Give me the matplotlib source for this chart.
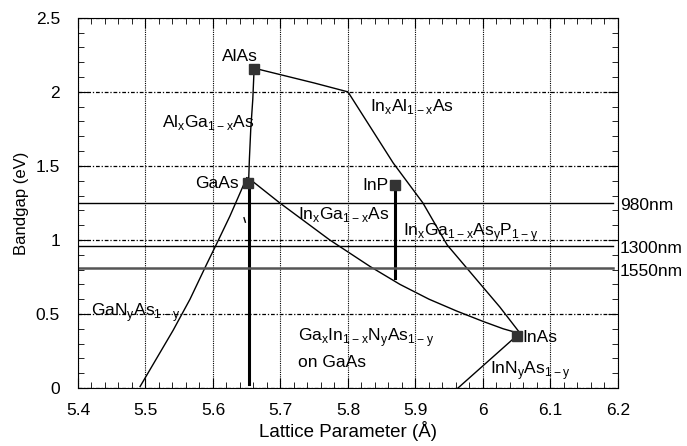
import numpy as np
import matplotlib
matplotlib.use("Agg")
import matplotlib.pyplot as plt
from matplotlib.ticker import MultipleLocator, FuncFormatter

plt.rcParams['font.family'] = ['Liberation Sans', 'DejaVu Sans']

# binary compounds (lattice parameter A, bandgap eV)
binary_names = ["AlAs", "GaAs", "InP", "InAs"]
binary_a = [5.661, 5.652, 5.869, 6.050]
binary_eg = [2.155, 1.385, 1.37, 0.35]

# alloy curves
algaas_a = [5.661, 5.659, 5.656, 5.654, 5.653]
algaas_eg = [2.16, 1.95, 1.75, 1.55, 1.42]

inalas_a = [5.661, 5.750, 5.800, 5.867, 5.911, 5.947, 6.025, 6.055]
inalas_eg = [2.16, 2.06, 2.00, 1.52, 1.25, 0.966, 0.547, 0.37]

ingaas_a = [5.652, 5.699, 5.773, 5.803, 5.833, 5.877, 5.920, 5.961, 6.000, 6.030, 6.053]
ingaas_eg = [1.42, 1.25, 1.00, 0.91, 0.82, 0.70, 0.60, 0.52, 0.45, 0.40, 0.37]

ganas_a = [5.650, 5.625, 5.605, 5.590, 5.566, 5.541, 5.492]
ganas_eg = [1.42, 1.16, 0.97, 0.83, 0.60, 0.39, 0.01]

innas_a = [6.053, 5.963]
innas_eg = [0.365, 0.0]

# stray mark near GaAs
mark_a = [5.646, 5.648]
mark_eg = [1.15, 1.12]

# vertical lines (lattice matched)
vlines_a = [5.653, 5.869]
vlines_top = [1.38, 1.37]
vlines_bot = [0.03, 0.74]

# laser wavelengths
wl_names = ["980nm", "1300nm", "1550nm"]
wl_eg = [1.25, 0.96, 0.81]
wl_colors = ["black", "black", "#555555"]
wl_widths = [1.0, 1.0, 1.8]

fig = plt.figure(figsize=(6.87, 4.46), dpi=100)
ax = fig.add_axes([0.1135, 0.130, 0.786, 0.830])

for xs, ys in [(algaas_a, algaas_eg), (inalas_a, inalas_eg), (ingaas_a, ingaas_eg),
               (ganas_a, ganas_eg), (innas_a, innas_eg), (mark_a, mark_eg)]:
    ax.plot(xs, ys, color='black', lw=1)

for a, t, b in zip(vlines_a, vlines_top, vlines_bot):
    ax.plot([a, a], [b, t], color='black', lw=2.2)

for name, e, c, w in zip(wl_names, wl_eg, wl_colors, wl_widths):
    ax.plot([5.4, 6.193], [e, e], color=c, lw=w)
    ax.text(6.203, e - 0.02, name, fontsize=12.5, va='center', ha='left')

ax.plot(binary_a, binary_eg, 's', color='#333333', ms=6.5, zorder=4)

txt = dict(fontsize=12.5, va='center', ha='left', zorder=1)
ax.text(5.613, 2.24, "AlAs", **txt)
ax.text(5.524, 1.79, "Al$_\\mathregular{x}$Ga$_\\mathregular{1-x}$As", **txt)
ax.text(5.573, 1.38, "GaAs", **txt)
ax.text(5.833, 1.90, "In$_\\mathregular{x}$Al$_\\mathregular{1-x}$As", **txt)
ax.text(5.822, 1.37, "InP", **txt)
ax.text(5.726, 1.17, "In$_\\mathregular{x}$Ga$_\\mathregular{1-x}$As", **txt)
ax.text(5.881, 1.05, "In$_\\mathregular{x}$Ga$_\\mathregular{1-x}$As$_\\mathregular{y}$P$_\\mathregular{1-y}$", **txt)
ax.text(5.42, 0.51, "GaN$_\\mathregular{y}$As$_\\mathregular{1-y}$", **txt)
ax.text(5.726, 0.34, "Ga$_\\mathregular{x}$In$_\\mathregular{1-x}$N$_\\mathregular{y}$As$_\\mathregular{1-y}$", **txt)
ax.text(5.726, 0.17, "on GaAs", **txt)
ax.text(6.058, 0.34, "InAs", **txt)
ax.text(6.01, 0.12, "InN$_\\mathregular{y}$As$_\\mathregular{1-y}$", **txt)

ax.set_xlim(5.4, 6.2)
ax.set_ylim(0, 2.5)
ax.xaxis.set_major_locator(MultipleLocator(0.1))
ax.xaxis.set_minor_locator(MultipleLocator(0.02))
ax.yaxis.set_major_locator(MultipleLocator(0.5))
ax.yaxis.set_minor_locator(MultipleLocator(0.1))
fmt = FuncFormatter(lambda v, p: ('%g' % round(v, 2)))
ax.xaxis.set_major_formatter(fmt)
ax.yaxis.set_major_formatter(fmt)
ax.tick_params(which='both', direction='in', top=True, right=True, labelsize=12.5)
ax.tick_params(which='major', length=7)
ax.tick_params(axis='x', which='major', pad=11)
ax.tick_params(axis='y', which='major', pad=13)
ax.tick_params(which='minor', length=4)
ax.xaxis.grid(True, color='black', lw=0.8, linestyle=(0, (1, 1)))
ax.yaxis.grid(True, color='black', lw=0.9, linestyle=(0, (3, 1.5, 1, 1.5)))

ax.set_xlabel("Lattice Parameter (Å)", fontsize=13.5, labelpad=2)
ax.set_ylabel("Bandgap (eV)", fontsize=12, labelpad=5)

fig.savefig("out.png", dpi=100)
